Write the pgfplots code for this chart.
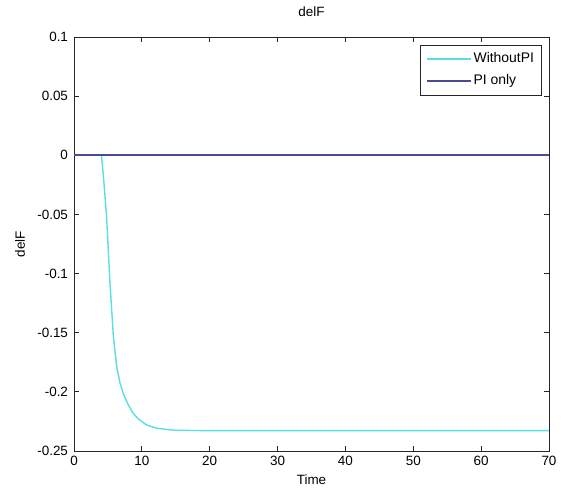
\documentclass[border=0pt]{standalone}
\usepackage{fontspec}
\setmainfont{Liberation Sans}
\usepackage{pgfplots}
\pgfplotsset{compat=1.18}
\definecolor{woPI}{RGB}{90,222,225}
\definecolor{piOnly}{RGB}{75,75,145}
\begin{document}
\begin{tikzpicture}
\useasboundingbox (-74bp,-41bp) rectangle (492bp,451bp);
\begin{axis}[
  at={(0,0)}, anchor=south west,
  scale only axis, width=475bp, height=414bp,
  xmin=0, xmax=70, ymin=-0.25, ymax=0.1,
  xtick={0,10,20,30,40,50,60,70},
  ytick={-0.25,-0.2,-0.15,-0.1,-0.05,0,0.05,0.1},
  yticklabels={-0.25,-0.2,-0.15,-0.1,-0.05,0,0.05,0.1},
  tick align=inside, major tick length=5bp,
  axis line style={line width=0.9bp, black!85},
  every tick/.style={black!85, line width=0.9bp},
  font=\fontsize{13.5}{15}\selectfont,
  /pgf/number format/assume math mode=true,
  tick label style={font=\fontsize{13.5}{15}\selectfont},
  yticklabel style={xshift=-2.5bp},
  xticklabel style={yshift=-1.4bp},
  title={delF},
  title style={at={(axis description cs:0.5,1)}, anchor=center, yshift=19bp},
  xlabel={Time},
  xlabel style={at={(axis description cs:0.5,0)}, anchor=center, yshift=-29bp},
  ylabel={delF},
  ylabel style={at={(axis description cs:0,0.5)}, anchor=center, yshift=54bp},
  legend style={at={(rel axis cs:1,1)}, anchor=north east, xshift=-7bp, yshift=-8bp,
    draw=black!85, line width=0.9bp, font=\fontsize{14}{15}\selectfont,
    inner xsep=6bp, inner ysep=7.5bp, row sep=9bp,
    nodes={inner xsep=1.5bp, inner ysep=0bp, text height=10bp, text depth=3bp}},
  legend cell align=left,
  legend image code/.code={\draw[#1] (0bp,0.3bp) -- (44bp,0.3bp);},
]
\addplot[woPI, line width=1.4bp] coordinates {
  (0,0) (4.05,0) (4.4,-0.022) (4.8,-0.052) (5.3,-0.108) (5.8,-0.153)
  (6.3,-0.179) (6.8,-0.193) (7.3,-0.202) (8,-0.211) (8.7,-0.218)
  (9.5,-0.223) (10.7,-0.228) (12,-0.2305) (13.6,-0.2318) (15,-0.2325)
  (20,-0.2328) (70,-0.2328)
};
\addlegendentry{WithoutPI}
\addplot[piOnly, line width=1.7bp] coordinates {(0,0) (70,0)};
\addlegendentry{PI only}
\end{axis}
\end{tikzpicture}
\end{document}
